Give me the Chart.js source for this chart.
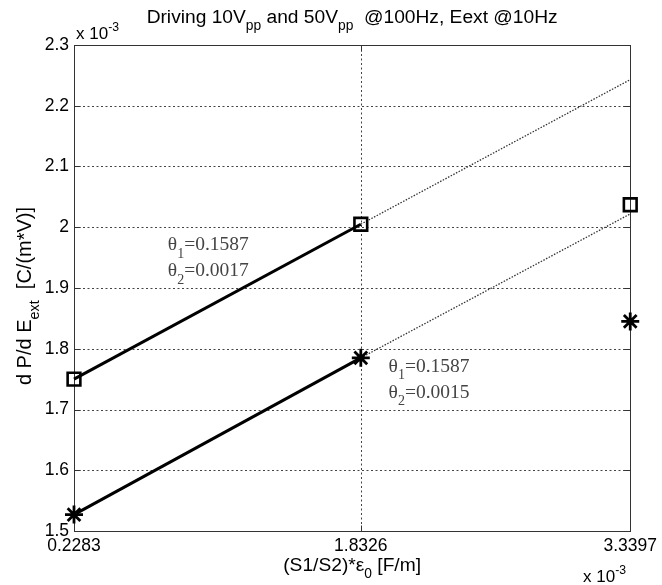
<!DOCTYPE html>
<html><head><meta charset="utf-8">
<script src="https://cdn.jsdelivr.net/npm/chart.js@4.4.0/dist/chart.umd.min.js"></script>
<style>html,body{margin:0;padding:0;background:#fff}#wrap{width:662px;height:585px}</style>
</head><body><div id="wrap"><canvas id="c" width="662" height="585"></canvas></div>
<script>
// ---- data (units of 1e-3) ----
const xTicks = [0.2283, 1.8326, 3.3397];
const yTicks = [1.5, 1.6, 1.7, 1.8, 1.9, 2.0, 2.1, 2.2, 2.3];
const squareY = [1.750, 2.005, 2.037];   // 10 Vpp
const starY   = [1.527, 1.785, 1.845];   // 50 Vpp
const fitX = [1.8326, 3.3397];
const upperFitY = [2.005, 2.243];
const lowerFitY = [1.785, 2.022];
const annotations = [
  {x: 0.753, y: 1.962, t1: '0.1587', t2: '0.0017'},
  {x: 1.988, y: 1.762, t1: '0.1587', t2: '0.0015'}
];

const SANS = '"Liberation Sans", Arial, sans-serif';
const SERIF = '"Liberation Serif", "Times New Roman", serif';

function pts(xs, ys){ return xs.map((x,i)=>({x:x, y:ys[i]})); }

function rich(ctx, segs, x, y, size, fam, align, color){
  ctx.fillStyle = color || '#000';
  ctx.textBaseline = 'alphabetic';
  ctx.textAlign = 'left';
  let w = 0;
  for (const s of segs){
    const fs = (s.sub||s.sup) ? size*0.72 : size;
    ctx.font = fs + 'px ' + fam;
    s._fs = fs; s._w = ctx.measureText(s.t).width; w += s._w;
  }
  let cx = align==='center' ? x - w/2 : (align==='right' ? x - w : x);
  for (const s of segs){
    ctx.font = s._fs + 'px ' + fam;
    const dy = s.sub ? size*0.38 : (s.sup ? -size*0.45 : 0);
    ctx.fillText(s.t, cx, y + dy);
    cx += s._w;
  }
}

const decor = {
  id: 'decor',
  beforeDatasetsDraw(chart){
    const ctx = chart.ctx, a = chart.chartArea, xs = chart.scales.x, ys = chart.scales.y;
    ctx.save();
    ctx.strokeStyle = '#444'; ctx.lineWidth = 1; ctx.setLineDash([2,2.5]);
    xTicks.forEach((v,i)=>{ if(i===0||i===xTicks.length-1) return;
      const px = Math.round(xs.getPixelForValue(v))+0.5;
      ctx.beginPath(); ctx.moveTo(px,a.top); ctx.lineTo(px,a.bottom); ctx.stroke(); });
    yTicks.forEach((v,i)=>{ if(i===0||i===yTicks.length-1) return;
      const py = Math.round(ys.getPixelForValue(v))+0.5;
      ctx.beginPath(); ctx.moveTo(a.left,py); ctx.lineTo(a.right,py); ctx.stroke(); });
    ctx.setLineDash([]);
    ctx.strokeStyle = '#333';
    const L = Math.round(a.left)+0.5, R = Math.round(a.right)+0.5, T = Math.round(a.top)+0.5, B = Math.round(a.bottom)+0.5;
    ctx.strokeRect(L, T, R-L, B-T);
    const tl = 6;
    ctx.beginPath();
    xTicks.forEach(v=>{ const px = Math.round(xs.getPixelForValue(v))+0.5;
      ctx.moveTo(px,B); ctx.lineTo(px,B-tl); ctx.moveTo(px,T); ctx.lineTo(px,T+tl); });
    yTicks.forEach(v=>{ const py = Math.round(ys.getPixelForValue(v))+0.5;
      ctx.moveTo(L,py); ctx.lineTo(L+tl,py); ctx.moveTo(R,py); ctx.lineTo(R-tl,py); });
    ctx.stroke();
    ctx.restore();
  },
  afterDraw(chart){
    const ctx = chart.ctx, a = chart.chartArea, xs = chart.scales.x, ys = chart.scales.y;
    ctx.save();
    const cx = (a.left + a.right)/2;
    // title
    rich(ctx, [{t:'Driving 10V'},{t:'pp',sub:true},{t:' and 50V'},{t:'pp',sub:true},{t:'  @100Hz, Eext @10Hz'}],
         cx, 23, 19.2, SANS, 'center');
    // exponent labels
    rich(ctx, [{t:'x 10'},{t:'-3',sup:true}], a.left+2, 39, 17, SANS, 'left');
    rich(ctx, [{t:'x 10'},{t:'-3',sup:true}], 583, 582, 17, SANS, 'left');
    // x label
    rich(ctx, [{t:'(S1/S2)'},{t:'*'},{t:'\u03B5'},{t:'0',sub:true},{t:' [F/m]'}],
         cx, 571, 19.2, SANS, 'center');
    // y label
    ctx.save();
    ctx.translate(31, 296);
    ctx.rotate(-Math.PI/2);
    rich(ctx, [{t:'d P/d E'},{t:'ext',sub:true},{t:'  [C/(m*V)]'}], 0, 0, 20, SANS, 'center');
    ctx.restore();
    // annotations
    annotations.forEach(an=>{
      const px = xs.getPixelForValue(an.x), py = ys.getPixelForValue(an.y);
      rich(ctx, [{t:'\u03B8'},{t:'1',sub:true},{t:'=' + an.t1}], px, py, 19.5, SERIF, 'left', '#444');
      rich(ctx, [{t:'\u03B8'},{t:'2',sub:true},{t:'=' + an.t2}], px, py+26, 19.5, SERIF, 'left', '#444');
    });
    ctx.restore();
  }
};

new Chart(document.getElementById('c'), {
  type: 'scatter',
  data: {
    datasets: [
      {data: pts(xTicks, squareY), pointStyle:'rect', pointRadius:9, pointHoverRadius:9, borderColor:'#000', backgroundColor:'rgba(0,0,0,0)', pointBorderWidth:2.6, showLine:false, clip:false, order:1},
      {data: pts(xTicks, starY), pointStyle:'star', pointRadius:9, pointHoverRadius:9, borderColor:'#000', backgroundColor:'#000', pointBorderWidth:2.8, showLine:false, clip:false, order:1},
      {data: pts(xTicks.slice(0,2), squareY.slice(0,2)), showLine:true, pointRadius:0, borderColor:'#000', borderWidth:3, clip:false, order:2},
      {data: pts(xTicks.slice(0,2), starY.slice(0,2)), showLine:true, pointRadius:0, borderColor:'#000', borderWidth:3, clip:false, order:2},
      {data: pts(fitX, upperFitY), showLine:true, pointRadius:0, borderColor:'#333', borderWidth:1.3, borderDash:[1.5,1.5], order:3},
      {data: pts(fitX, lowerFitY), showLine:true, pointRadius:0, borderColor:'#333', borderWidth:1.3, borderDash:[1.5,1.5], order:3}
    ]
  },
  options: {
    responsive: false,
    animation: false,
    devicePixelRatio: 1,
    layout: {padding: {top:45, right:31, left:0, bottom:0}},
    plugins: {legend:{display:false}, tooltip:{enabled:false}, title:{display:false}},
    scales: {
      x: {
        type:'linear', min:xTicks[0], max:xTicks[xTicks.length-1],
        afterBuildTicks(s){ s.ticks = xTicks.map(v=>({value:v})); },
        afterFit(s){ s.height = 54; },
        grid:{display:false, drawTicks:false, tickLength:0},
        border:{display:false},
        ticks:{autoSkip:false, maxRotation:0, padding:5, color:'#000', font:{family:SANS, size:17.5},
          callback(v){ return Number(v).toFixed(4); }}
      },
      y: {
        type:'linear', min:yTicks[0], max:yTicks[yTicks.length-1],
        afterBuildTicks(s){ s.ticks = yTicks.map(v=>({value:v})); },
        afterFit(s){ s.width = 74; },
        grid:{display:false, drawTicks:false, tickLength:0},
        border:{display:false},
        ticks:{autoSkip:false, padding:5, color:'#000', font:{family:SANS, size:17.5},
          callback(v){ return String(+Number(v).toFixed(4)); }}
      }
    }
  },
  plugins: [decor]
});
</script></body></html>
